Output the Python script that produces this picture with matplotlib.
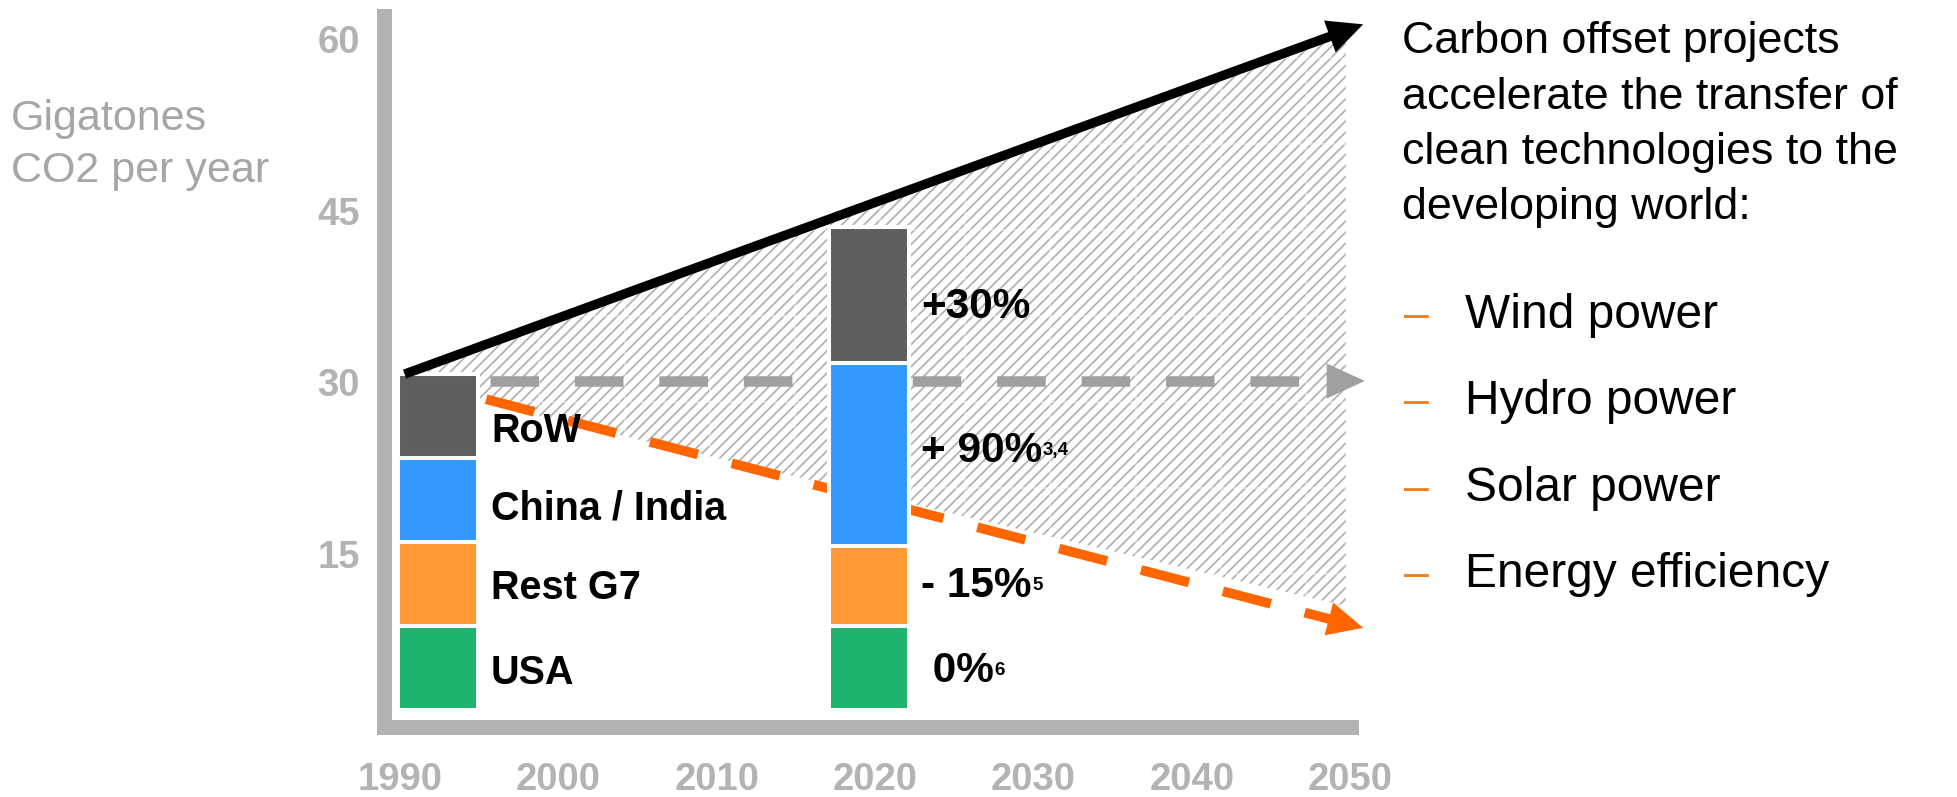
import numpy as np
import matplotlib
matplotlib.use("Agg")
import matplotlib.pyplot as plt

plt.rcParams['font.family'] = ['Liberation Sans', 'DejaVu Sans']
plt.rcParams['hatch.linewidth'] = 1.3

# ---------------- data ----------------
x_ticks = [1990, 2000, 2010, 2020, 2030, 2040, 2050]
y_ticks = [15, 30, 45, 60]
regions = ["USA", "Rest G7", "China / India", "RoW"]
bar_years = [1990, 2020]
emissions_1990 = [7.35, 7.4, 7.3, 7.35]
emissions_2020 = [7.35, 7.0, 16.0, 11.9]
bar_base = 1.3
change_labels = [" 0%", "- 15%", "+ 90%", "+30%"]
change_notes = ["6", "5", "3,4", ""]

# trend lines (year, Gt CO2)
bau_x = [1990.3, 2050.8]
bau_y = [30.7, 61.3]
stable_x = [1995.7, 2050.9]
stable_y = [30.1, 30.1]
reduction_x = [1995.45, 2050.8]
reduction_y = [28.5, 8.5]
gap_x = [1994.9, 2049.7]
gap_low = [28.3, 10.4]

desc_lines = ["Carbon offset projects", "accelerate the transfer of",
              "clean technologies to the", "developing world:"]
bullets = ["Wind power", "Hydro power", "Solar power", "Energy efficiency"]

# ---------------- style ----------------
seg_colors = ['#1DB36E', '#FF9933', '#3399FF', '#5F5F5F']
spine_col = '#B3B3B3'
tick_col = '#B3B3B3'
grey_line = '#A0A0A0'
orange_line = '#FF6600'

W, H = 1957, 797
fig = plt.figure(figsize=(W / 100, H / 100), dpi=100)
ax = fig.add_axes([384 / W, 70 / H, 966.5 / W, 711 / H])
ax.set_xlim(1989.0, 2049.406)
ax.set_ylim(-0.175, 62.03)

for s in ['top', 'right']:
    ax.spines[s].set_visible(False)
for s in ['left', 'bottom']:
    ax.spines[s].set_color(spine_col)
    ax.spines[s].set_linewidth(10.8)
    ax.spines[s].set_capstyle('projecting')

ax.set_xticks(x_ticks, labels=[str(v) for v in x_ticks])
ax.set_yticks(y_ticks, labels=[str(v) for v in y_ticks])
ax.tick_params(axis='both', length=0, labelsize=27.5, labelcolor=tick_col)
ax.tick_params(axis='x', pad=25)
ax.tick_params(axis='y', pad=17.5)
for lbl in ax.get_xticklabels() + ax.get_yticklabels():
    lbl.set_fontweight('bold')

# ---------------- hatched gap region ----------------
top_at_right = np.interp(gap_x[1], bau_x, bau_y)
bar_top_1990 = bar_base + sum(emissions_1990)
poly_x = [bau_x[0], gap_x[1], gap_x[1], gap_x[0], gap_x[0]]
poly_y = [bau_y[0], top_at_right, gap_low[1], gap_low[0], bar_top_1990]
region = ax.fill(poly_x, poly_y, facecolor='white', edgecolor='#B2B2B2',
                 hatch='///', linewidth=0, zorder=1, clip_on=False)[0]

# light tiling seams of the texture
for xv in np.arange(1998.81, 2050.5, 5.375):
    ln, = ax.plot([xv, xv], [0, 62], color='white', lw=1.1, alpha=0.55, zorder=1.5,
                  clip_on=False)
    ln.set_clip_path(region)
for yv in np.arange(43.3 + 7.52 * 2, 0, -7.52):
    ln, = ax.plot([1989, 2051], [yv, yv], color='white', lw=1.1, alpha=0.55, zorder=1.5,
                  clip_on=False)
    ln.set_clip_path(region)


def along(xs, ys, back_px):
    p0 = ax.transData.transform((xs[0], ys[0]))
    p1 = ax.transData.transform((xs[-1], ys[-1]))
    u = (p1 - p0) / np.hypot(*(p1 - p0))
    return ax.transData.inverted().transform(p1 - u * back_px)


def head(xs, ys, color, length_pt, half_pt, z):
    back = along(xs, ys, 20)
    ax.annotate('', xy=(xs[-1], ys[-1]), xytext=tuple(back),
                arrowprops=dict(arrowstyle=f'-|>,head_length={length_pt},head_width={half_pt}',
                                mutation_scale=1, lw=0.01, color=color,
                                shrinkA=0, shrinkB=0),
                annotation_clip=False, zorder=z)


# grey "stable" dashed line
base = along(stable_x, stable_y, 34)
ax.plot([stable_x[0], base[0]], [stable_y[0], base[1]], color=grey_line, lw=7.6,
        dashes=(4.6, 3.4), dash_capstyle='butt', zorder=2, clip_on=False)
head(stable_x, stable_y, grey_line, 27.4, 12.6, 2)

# orange "reduction" dashed line
base = along(reduction_x, reduction_y, 30)
ax.plot([reduction_x[0], base[0]], [reduction_y[0], base[1]], color=orange_line, lw=7.0,
        dashes=(5.1, 3.6), dash_capstyle='butt', zorder=2, clip_on=False)
head(reduction_x, reduction_y, orange_line, 25.5, 12.2, 2)

# ---------------- stacked bars ----------------
bar_pos = [1992.41, 2019.59]
bar_w = 5.06
for pos, vals in zip(bar_pos, [emissions_1990, emissions_2020]):
    bottom = bar_base
    for v, c in zip(vals, seg_colors):
        ax.bar(pos, v, width=bar_w, bottom=bottom, color=c, edgecolor='white',
               linewidth=2.9, zorder=3)
        bottom += v

# black business-as-usual line
base = along(bau_x, bau_y, 30)
ax.plot([bau_x[0], base[0]], [bau_y[0], base[1]], color='black', lw=6.8,
        solid_capstyle='butt', zorder=4, clip_on=False)
head(bau_x, bau_y, 'black', 25.5, 12.2, 4)

# ---------------- labels ----------------
label_x = 1995.75
label_y = [3.59, 11.02, 17.97, 24.76]
for name, yv in zip(regions, label_y):
    ax.text(label_x, yv, name, fontsize=28.5, fontweight='bold', color='black',
            va='baseline', ha='left', zorder=5)

change_x = 2022.9
change_y = [3.79, 11.22, 23.04, 35.6]
for lab, note, yv in zip(change_labels, change_notes, change_y):
    t = ax.text(change_x, yv, lab, fontsize=30.5, fontweight='bold', color='black',
                va='baseline', ha='left', zorder=5)
    if note:
        ax.annotate(note, xy=(1, 0), xycoords=t, xytext=(0.5, 11),
                    textcoords='offset points', fontsize=13.5, fontweight='bold',
                    va='baseline', ha='left', zorder=5)


def px(x, y):
    return x / W, 1 - y / H


fig.text(*px(11, 130), "Gigatones", fontsize=31, color='#A6A6A6', va='baseline', ha='left')
fig.text(*px(11, 182), "CO2 per year", fontsize=31, color='#A6A6A6', va='baseline', ha='left')

for i, line in enumerate(desc_lines):
    fig.text(*px(1402, 53.5 + i * 55.2), line, fontsize=32.3, color='black',
             va='baseline', ha='left')

for i, b in enumerate(bullets):
    yb = 328 + i * 86.3
    fig.text(*px(1404, yb), "\u2013", fontsize=32.3, color='#F07D1E', va='baseline', ha='left')
    fig.text(*px(1465, yb), b, fontsize=34.5, color='black', va='baseline', ha='left')

fig.savefig("out.png", dpi=100)
